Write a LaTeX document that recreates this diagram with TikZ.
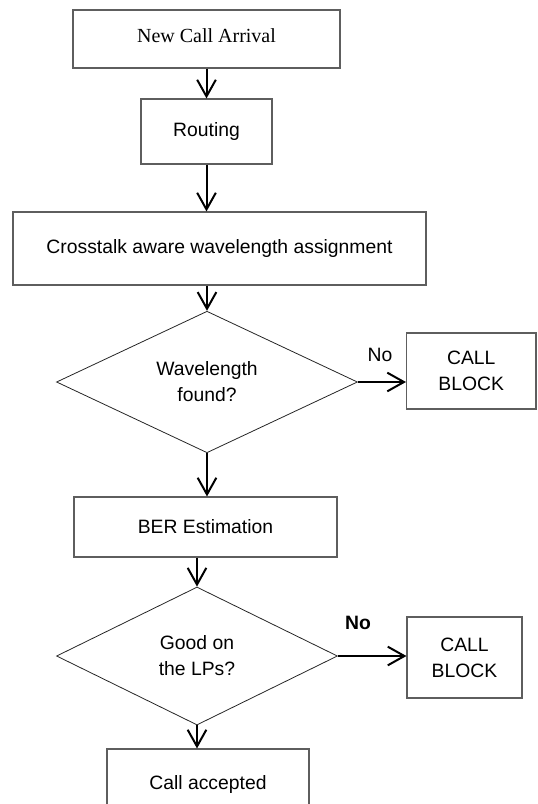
\documentclass[tikz,border=0pt]{standalone}
\usepackage{fontspec}
\setmainfont{Liberation Sans}
\newfontfamily\timesf{Liberation Serif}
\usetikzlibrary{arrows.meta,shapes.geometric}
\definecolor{boxgray}{HTML}{5E5E5E}
\tikzset{
  box/.style={draw=boxgray, line width=0.8pt, rectangle, inner sep=0pt, align=center,
    font=\fontsize{14.5}{19.5}\selectfont},
  dec/.style={draw=black!85, line width=0.6pt, diamond, inner sep=0pt, align=center,
    font=\fontsize{14.5}{19.5}\selectfont},
  arr/.style={line width=1.5pt, -{Straight Barb[length=12.5pt,width=14pt,line width=1.5pt]}},
  lbl/.style={font=\fontsize{14.5}{16}\selectfont, inner sep=0pt}
}
\begin{document}
\begin{tikzpicture}[x=0.75pt,y=-0.75pt]
\useasboundingbox (0,0) rectangle (537,804);
\clip (0,0) rectangle (537,804);
\node[box, minimum width=200.25pt, minimum height=43.5pt, font=\timesf\fontsize{15}{18}\selectfont] (n1) at (206.5,39) {\raisebox{4.5pt}{New Call Arrival}};
\node[box, minimum width=98.25pt, minimum height=48.75pt] (n2) at (206.5,131.5) {Routing};
\node[box, minimum width=309.75pt, minimum height=54.75pt] (n3) at (219.5,248.5) {\raisebox{3.5pt}{Crosstalk aware wavelength assignment}};
\node[dec, minimum width=225.75pt, minimum height=103.5pt] (d1) at (207,382) {Wavelength\\found?};
\node[box, minimum width=97.1pt, minimum height=57pt] (cb1) at (471.25,371) {CALL\\BLOCK};
\node[box, minimum width=197.25pt, minimum height=45pt] (n4) at (205.5,527) {BER Estimation};
\node[dec, minimum width=210.75pt, minimum height=103.5pt] (d2) at (197,656) {Good on\\the LPs?};
\node[box, minimum width=86.25pt, minimum height=60.75pt] (cb2) at (464.5,657.5) {CALL\\BLOCK};
\node[box, minimum width=151.5pt, minimum height=52.5pt] (n5) at (208,784) {\raisebox{1pt}{Call accepted}};
\node[lbl] (no1) at (380,355) {No};
\node[lbl, font=\bfseries\fontsize{14.5}{16}\selectfont] (no2) at (358,623) {No};
\draw[arr] (n1.south) -- (n2.north);
\draw[arr] (n2.south) -- (n2.south |- n3.north);
\draw[arr] (d1.north |- n3.south) -- (d1.north);
\draw[arr] (d1.south) -- (d1.south |- n4.north);
\draw[arr] (d2.north |- n4.south) -- (d2.north);
\draw[arr] (d2.south) -- (d2.south |- n5.north);
\draw[arr] (d1.east) -- (d1.east -| cb1.west);
\draw[arr] (d2.east) -- (d2.east -| cb2.west);
\end{tikzpicture}
\end{document}
